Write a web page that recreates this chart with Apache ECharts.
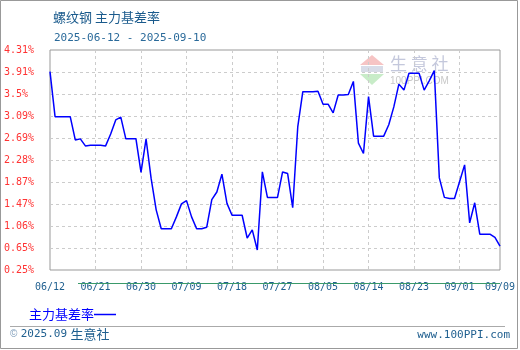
<!DOCTYPE html>
<html>
<head>
<meta charset="utf-8">
<script src="https://cdn.jsdelivr.net/npm/echarts@6/dist/echarts.min.js"></script>
<style>
html,body{margin:0;padding:0;background:#fff;}
#chart{width:520px;height:350px;}
</style>
</head>
<body>
<div id="chart"></div>
<script>
// ---- data ----
var startDate = '2025-06-12';
var dayCount = 90;
var categories = [];
(function(){
  var d = new Date(startDate + 'T00:00:00Z');
  for (var i = 0; i < dayCount; i++) {
    var m = d.getUTCMonth() + 1, dd = d.getUTCDate();
    categories.push((m < 10 ? '0' : '') + m + '/' + (dd < 10 ? '0' : '') + dd);
    d.setUTCDate(d.getUTCDate() + 1);
  }
})();
var seriesName = '主力基差率';
var basisRate = [
  3.91, 3.08, 3.08, 3.08, 3.08, 2.65, 2.67, 2.54, 2.55, 2.55,
  2.55, 2.54, 2.76, 3.02, 3.07, 2.67, 2.67, 2.67, 2.05, 2.67,
  1.94, 1.36, 1.01, 1.01, 1.01, 1.23, 1.47, 1.53, 1.23, 1.01,
  1.01, 1.04, 1.55, 1.69, 2.02, 1.48, 1.26, 1.26, 1.26, 0.84,
  0.99, 0.62, 2.06, 1.59, 1.59, 1.59, 2.06, 2.03, 1.40, 2.89,
  3.54, 3.54, 3.54, 3.55, 3.31, 3.31, 3.15, 3.48, 3.48, 3.49,
  3.73, 2.59, 2.40, 3.45, 2.72, 2.72, 2.72, 2.93, 3.26, 3.68,
  3.57, 3.88, 3.88, 3.88, 3.57, 3.74, 3.93, 1.95, 1.59, 1.57,
  1.57, 1.88, 2.19, 1.12, 1.49, 0.91, 0.91, 0.91, 0.85, 0.69
];
var yTickLabels = ['0.25','0.65','1.06','1.47','1.87','2.28','2.69','3.09','3.5','3.91','4.31'];
var yMin = 0.25, yMax = 4.31;
var xLabelIdx = [0, 9, 18, 27, 36, 45, 54, 63, 72, 81, 89];

var mono = '"DejaVu Sans Mono", "Liberation Mono", monospace';
var cjk = '"Noto Sans CJK SC", sans-serif';

var chart = echarts.init(document.getElementById('chart'), null, {renderer: 'canvas'});
function showIdx(i){ return xLabelIdx.indexOf(i) >= 0; }

chart.setOption({
  animation: false,
  backgroundColor: '#fff',
  title: [
    {text: '螺纹钢 主力基差率', left: 48, top: 6,
     textStyle: {fontFamily: cjk, fontSize: 13, fontWeight: 'normal', color: '#1a5a8c'}},
    {text: '2025-06-12 - 2025-09-10', left: 49, top: 28,
     textStyle: {fontFamily: mono, fontSize: 11, fontWeight: 'normal', color: '#2a6a9a'}}
  ],
  legend: {
    left: 24, top: 303, align: 'right', icon: 'rect', itemWidth: 22, itemHeight: 1.5,
    textStyle: {fontFamily: cjk, fontSize: 13, color: '#0000ff', padding: [0, -5, 0, 0]},
    data: [seriesName]
  },
  grid: {left: 50, top: 50, width: 450, height: 220, show: true, borderColor: '#999', borderWidth: 1, containLabel: false},
  xAxis: {
    type: 'category', data: categories, boundaryGap: false,
    axisLine: {show: false}, axisTick: {show: false},
    axisLabel: {interval: function(i){ return showIdx(i); }, margin: 12, color: '#1f5f8f', fontFamily: mono, fontSize: 10, showMaxLabel: true},
    splitLine: {show: true, interval: function(i){ return showIdx(i) && i !== 0 && i !== 89; }, lineStyle: {color: '#ccc', type: [3, 3]}}
  },
  yAxis: [
    {type: 'value', min: 0, max: 10, interval: 1,
     axisLine: {show: false}, axisTick: {show: false},
     axisLabel: {align: 'left', margin: 46, color: '#ff3333', fontFamily: mono, fontSize: 10,
                 formatter: function(v){ return yTickLabels[Math.round(v)] + '%'; }},
     splitLine: {show: true, showMinLine: false, showMaxLine: false, lineStyle: {color: '#ccc', type: [3, 3]}}},
    {type: 'value', min: yMin, max: yMax, show: false, splitLine: {show: false}}
  ],
  graphic: [
    {type: 'rect', shape: {x: 0.5, y: 0.5, width: 517, height: 348}, style: {fill: 'none', stroke: '#999', lineWidth: 1}, silent: true, z: 100},
    {type: 'line', shape: {x1: 78, y1: 283.5, x2: 500, y2: 283.5}, style: {stroke: '#3a9a6a', lineWidth: 1}, z: 1},
    {type: 'line', shape: {x1: 10, y1: 326.5, x2: 505, y2: 326.5}, style: {stroke: '#aaa', lineWidth: 1}},
    {type: 'text', left: 10, top: 328, style: {text: '{c|©} {n|2025.09} {z|生意社}', rich: {
        c: {fontSize: 10, fill: '#7a9ab8', fontFamily: 'sans-serif'},
        n: {fontSize: 11, fill: '#1f5f8f', fontFamily: mono},
        z: {fontSize: 13, fill: '#1f5f8f', fontFamily: cjk}}}},
    {type: 'text', right: 10, top: 330, style: {text: 'www.100PPI.com', font: '11px ' + mono, fill: '#1f5f8f'}},
    // watermark
    {type: 'polygon', shape: {points: [[372, 55], [360, 65], [384, 65]]}, style: {fill: '#f6c4c4'}, z: 0},
    {type: 'rect', shape: {x: 361, y: 66, width: 22, height: 6}, style: {fill: '#d8dce8'}, z: 0},
    {type: 'polygon', shape: {points: [[360, 74], [384, 74], [372, 85]]}, style: {fill: '#c8ecc8'}, z: 0},
    {type: 'text', left: 390, top: 55, style: {text: '生 意 社', font: '17px ' + cjk, fill: '#c4c8dc'}, z: 0},
    {type: 'text', left: 390, top: 76, style: {text: '100PPI.COM', font: '10px sans-serif', fill: '#c8c8c8'}, z: 0}
  ],
  series: [{
    name: seriesName, type: 'line', data: basisRate, yAxisIndex: 1,
    showSymbol: false, smooth: false, z: 5,
    lineStyle: {color: '#0000ff', width: 1.5}, itemStyle: {color: '#0000ff'}
  }]
});
</script>
</body>
</html>
